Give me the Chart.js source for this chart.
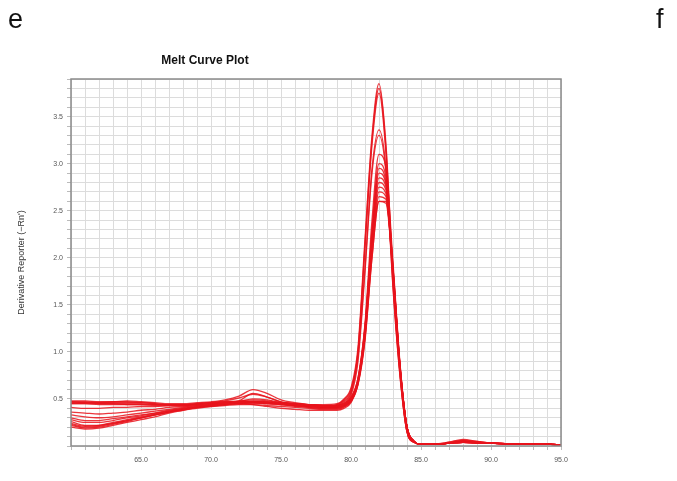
<!DOCTYPE html>
<html>
<head>
<meta charset="utf-8">
<script src="https://cdn.jsdelivr.net/npm/chart.js@4/dist/chart.umd.min.js"></script>
<style>
  html, body { margin: 0; padding: 0; background: #fff; }
  #wrap { position: relative; width: 677px; height: 481px; }
  .panel { position: absolute; top: 4px; font: 27px "Liberation Sans", Arial, sans-serif; color: #111; }
</style>
</head>
<body>
<div id="wrap">
  <canvas id="meltChart" width="677" height="481"></canvas>
  <div class="panel" style="left:8px;">e</div>
  <div class="panel" style="left:656px;">f</div>
</div>
<script>
// nhiệt độ (trục X)
var temps = [60, 61, 62, 63, 64, 65, 66, 67, 68, 69, 70, 71, 72, 73, 74, 75, 76, 77, 78, 79,
  79.5, 80, 80.5, 81, 81.5, 82, 82.5, 83, 83.5, 84, 84.5, 85, 86, 87, 88, 89, 90, 92, 94, 95];

// các giếng (đường cong nóng chảy)
var well1 = [0.47,0.47,0.46,0.47,0.47,0.46,0.45,0.44,0.44,0.45,0.46,0.47,0.48,0.49,0.48,0.46,0.45,0.44,0.44,0.45,
  0.5,0.62,1.05,2.2,3.3,3.85,3.2,1.8,0.8,0.16,0.04,0.02,0.02,0.03,0.04,0.03,0.03,0.02,0.02,0.01];
var well2 = [0.24,0.21,0.22,0.25,0.28,0.31,0.34,0.37,0.4,0.42,0.44,0.45,0.46,0.47,0.46,0.45,0.44,0.43,0.42,0.44,
  0.49,0.6,1.0,2.15,3.25,3.8,3.15,1.78,0.78,0.15,0.04,0.02,0.02,0.03,0.05,0.04,0.03,0.02,0.02,0.01];
var well3 = [0.45,0.45,0.45,0.45,0.44,0.44,0.43,0.43,0.43,0.44,0.45,0.46,0.48,0.56,0.52,0.47,0.45,0.44,0.43,0.44,
  0.48,0.58,1.0,2.1,3.2,3.75,3.1,1.75,0.78,0.16,0.04,0.02,0.02,0.03,0.06,0.04,0.03,0.02,0.02,0.01];
var well4 = [0.33,0.31,0.3,0.31,0.33,0.35,0.37,0.39,0.41,0.43,0.44,0.46,0.47,0.48,0.47,0.45,0.44,0.43,0.42,0.43,
  0.47,0.56,0.95,1.9,2.95,3.36,2.95,1.7,0.75,0.15,0.04,0.02,0.02,0.03,0.04,0.03,0.03,0.02,0.02,0.01];
var well5 = [0.22,0.19,0.2,0.23,0.26,0.3,0.33,0.36,0.39,0.41,0.43,0.45,0.46,0.47,0.47,0.46,0.45,0.44,0.43,0.43,
  0.46,0.54,0.9,1.85,2.9,3.3,2.9,1.68,0.74,0.15,0.04,0.02,0.02,0.03,0.05,0.04,0.03,0.02,0.02,0.01];
var well6 = [0.48,0.48,0.47,0.47,0.48,0.47,0.46,0.45,0.45,0.46,0.47,0.49,0.53,0.6,0.56,0.49,0.46,0.44,0.43,0.43,
  0.45,0.52,0.72,1.3,2.4,3.1,2.95,1.95,0.88,0.2,0.05,0.02,0.02,0.04,0.07,0.05,0.03,0.02,0.02,0.01];
var well7 = [0.41,0.4,0.4,0.41,0.41,0.42,0.42,0.43,0.43,0.44,0.45,0.46,0.47,0.5,0.49,0.46,0.44,0.43,0.42,0.42,
  0.44,0.51,0.7,1.25,2.3,3.0,2.85,1.9,0.86,0.2,0.05,0.02,0.02,0.03,0.05,0.04,0.03,0.02,0.02,0.01];
var well8 = [0.26,0.22,0.22,0.24,0.27,0.3,0.33,0.36,0.38,0.41,0.43,0.44,0.46,0.47,0.46,0.45,0.43,0.42,0.41,0.41,
  0.43,0.5,0.7,1.25,2.25,2.95,2.8,1.9,0.86,0.2,0.05,0.02,0.02,0.03,0.04,0.03,0.03,0.02,0.02,0.01];
var well9 = [0.47,0.46,0.46,0.46,0.46,0.46,0.45,0.44,0.44,0.45,0.46,0.48,0.51,0.55,0.52,0.47,0.45,0.44,0.43,0.43,
  0.45,0.51,0.72,1.28,2.25,2.9,2.78,1.88,0.85,0.2,0.05,0.02,0.02,0.04,0.06,0.05,0.03,0.02,0.02,0.01];
var well10 = [0.2,0.18,0.19,0.22,0.25,0.28,0.31,0.35,0.38,0.4,0.42,0.44,0.45,0.46,0.45,0.44,0.42,0.41,0.4,0.4,
  0.42,0.48,0.68,1.2,2.2,2.85,2.75,1.88,0.85,0.2,0.05,0.02,0.02,0.03,0.04,0.03,0.03,0.02,0.02,0.01];
var well11 = [0.45,0.45,0.44,0.44,0.44,0.44,0.44,0.44,0.44,0.45,0.46,0.47,0.47,0.47,0.46,0.45,0.44,0.43,0.42,0.42,
  0.44,0.5,0.7,1.25,2.2,2.8,2.72,1.86,0.84,0.2,0.05,0.02,0.02,0.03,0.05,0.04,0.03,0.02,0.02,0.01];
var well12 = [0.28,0.25,0.25,0.27,0.3,0.32,0.35,0.37,0.39,0.41,0.43,0.44,0.45,0.45,0.45,0.44,0.43,0.41,0.4,0.4,
  0.42,0.48,0.68,1.2,2.15,2.75,2.68,1.85,0.84,0.2,0.05,0.02,0.02,0.03,0.04,0.03,0.03,0.02,0.02,0.01];
var well13 = [0.36,0.35,0.34,0.35,0.36,0.38,0.39,0.41,0.42,0.43,0.44,0.45,0.46,0.47,0.46,0.45,0.43,0.42,0.41,0.41,
  0.43,0.49,0.68,1.18,2.1,2.7,2.65,1.84,0.83,0.2,0.05,0.02,0.02,0.03,0.05,0.04,0.03,0.02,0.02,0.01];
var well14 = [0.23,0.2,0.21,0.24,0.27,0.3,0.33,0.36,0.39,0.41,0.42,0.43,0.44,0.44,0.43,0.42,0.41,0.4,0.39,0.39,
  0.41,0.47,0.66,1.15,2.05,2.65,2.62,1.83,0.83,0.2,0.05,0.02,0.02,0.03,0.04,0.03,0.03,0.02,0.02,0.01];
var well15 = [0.46,0.46,0.45,0.45,0.45,0.45,0.44,0.44,0.44,0.44,0.45,0.45,0.45,0.44,0.42,0.4,0.39,0.38,0.38,0.38,
  0.4,0.46,0.65,1.12,2.0,2.6,2.58,1.82,0.82,0.2,0.05,0.02,0.02,0.03,0.04,0.03,0.03,0.02,0.02,0.01];
var well16 = [0.3,0.27,0.27,0.29,0.31,0.33,0.35,0.38,0.4,0.42,0.43,0.44,0.45,0.46,0.45,0.44,0.43,0.42,0.41,0.41,
  0.43,0.48,0.66,1.15,2.0,2.6,2.6,1.84,0.84,0.2,0.05,0.02,0.02,0.03,0.05,0.04,0.03,0.02,0.02,0.01];

var wells = [well1, well2, well3, well4, well5, well6, well7, well8,
  well9, well10, well11, well12, well13, well14, well15, well16];

// nhãn trục
var xLabelTicks = [65, 70, 75, 80, 85, 90, 95];
var yLabelTicks = [0.5, 1.0, 1.5, 2.0, 2.5, 3.0, 3.5];

var datasets = wells.map(function (w) {
  return {
    data: w.map(function (v, i) { return { x: temps[i], y: v }; }),
    borderColor: "rgba(232, 20, 28, 0.85)",
    borderWidth: 1.3,
    pointRadius: 0,
    fill: false,
    cubicInterpolationMode: "monotone",
  };
});

function hasTick(list, v) {
  return list.some(function (t) { return Math.abs(t - v) < 1e-6; });
}

/* khung viền + tiêu đề */
var framePlugin = {
  id: "frame",
  afterDatasetsDraw: function (chart) {
    var a = chart.chartArea, c = chart.ctx;
    c.save();
    c.strokeStyle = "#8a8a8a";
    c.lineWidth = 1.5;
    c.strokeRect(a.left, a.top, a.right - a.left, a.bottom - a.top);
    c.restore();
  },
  afterDraw: function (chart) {
    var c = chart.ctx;
    c.save();
    c.fillStyle = "#111";
    c.font = "bold 12px 'Liberation Sans', Arial, sans-serif";
    c.textAlign = "center";
    c.textBaseline = "middle";
    c.fillText("Melt Curve Plot", 205, 61);
    c.restore();
  },
};

var ctx = document.getElementById("meltChart").getContext("2d");
var meltChart = new Chart(ctx, {
  type: "line",
  data: { datasets: datasets },
  options: {
    responsive: false,
    animation: false,
    layout: { padding: { left: 0, top: 79, right: 116, bottom: 0 } },
    plugins: { legend: { display: false }, tooltip: { enabled: false } },
    scales: {
      x: {
        type: "linear",
        min: 60,
        max: 95,
        border: { display: false },
        grid: { color: "#dcdcdc", lineWidth: 1, tickLength: 4, tickColor: "#bbb" },
        ticks: {
          stepSize: 1,
          autoSkip: false,
          maxRotation: 0,
          color: "#555",
          font: { size: 7, family: "'Liberation Sans', Arial, sans-serif" },
          padding: 6,
          callback: function (v) { return hasTick(xLabelTicks, v) ? v.toFixed(1) : ""; },
        },
        afterFit: function (scale) { scale.height = 35; },
      },
      y: {
        min: 0,
        max: 3.9,
        border: { display: false },
        grid: { color: "#dcdcdc", lineWidth: 1, tickLength: 4, tickColor: "#bbb" },
        ticks: {
          stepSize: 0.1,
          autoSkip: false,
          color: "#555",
          font: { size: 7, family: "'Liberation Sans', Arial, sans-serif" },
          padding: 4,
          callback: function (v) { return hasTick(yLabelTicks, v) ? v.toFixed(1) : ""; },
        },
        title: {
          display: true,
          text: "Derivative Reporter (\u2212Rn')",
          color: "#333",
          font: { size: 9, family: "'Liberation Sans', Arial, sans-serif" },
          padding: { top: 16, bottom: 0 },
        },
        afterFit: function (scale) { scale.width = 71; },
      },
    },
  },
  plugins: [framePlugin],
});
</script>
</body>
</html>
